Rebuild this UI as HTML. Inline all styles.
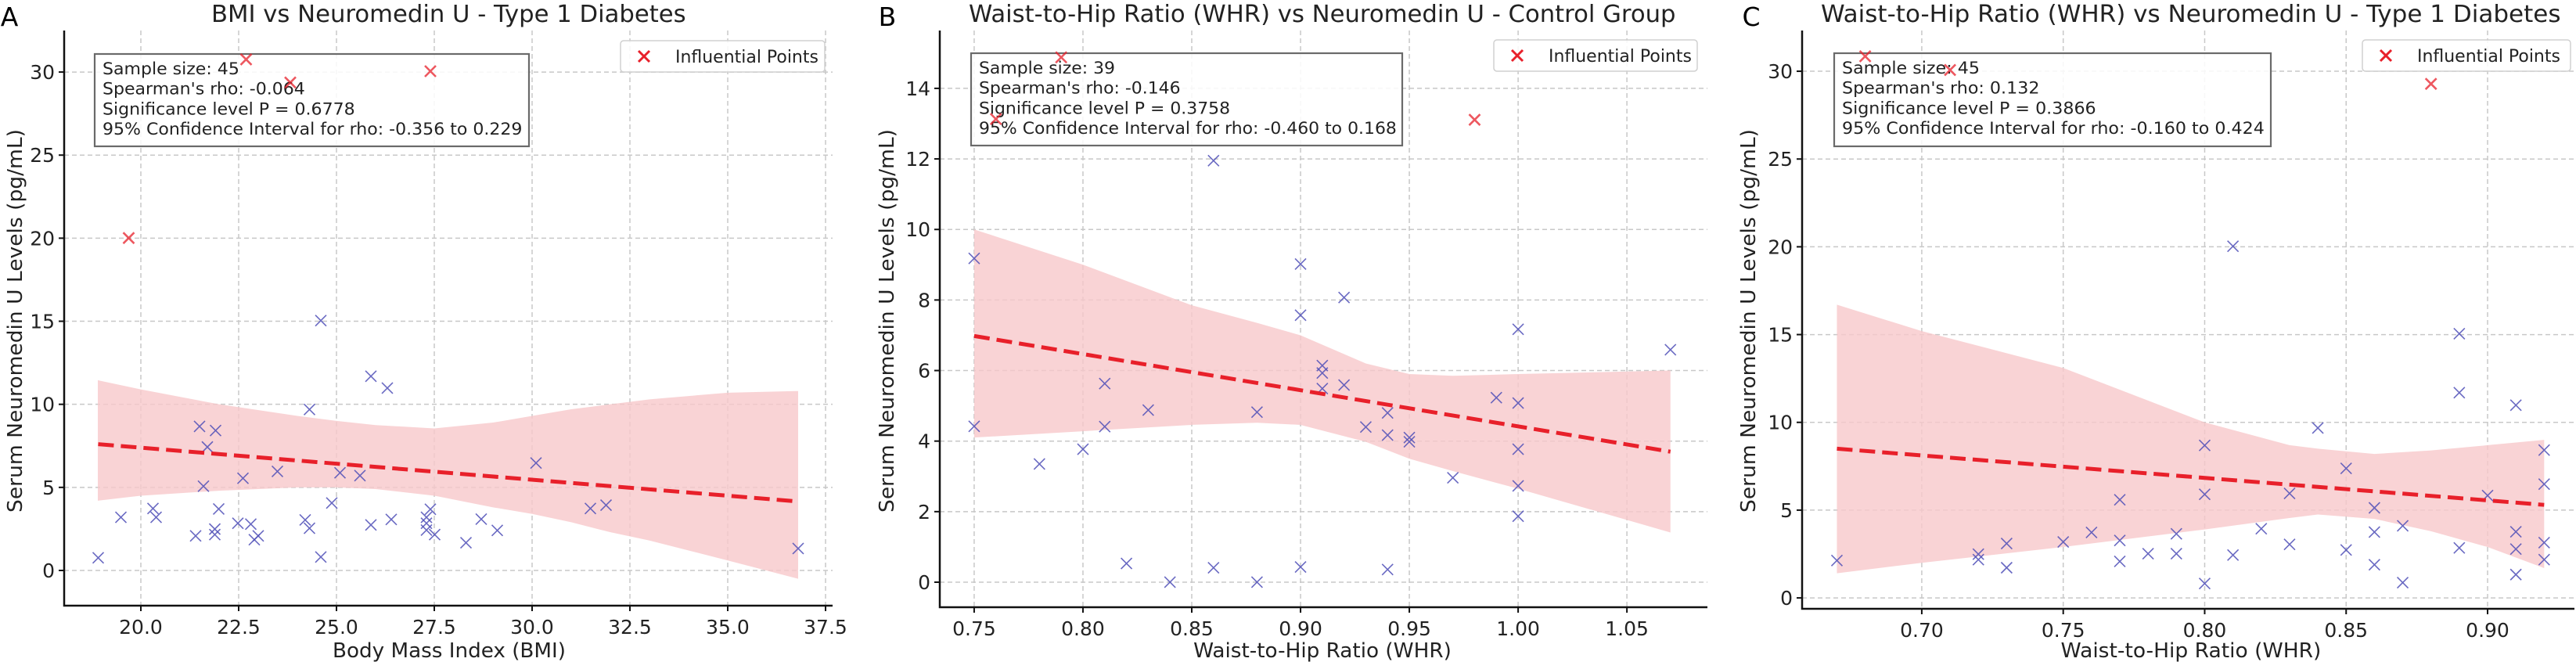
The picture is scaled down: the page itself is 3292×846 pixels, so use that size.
<!DOCTYPE html>
<html><head><meta charset="utf-8"><style>
html,body{margin:0;padding:0;background:#fff;}
svg{display:block;font-family:"DejaVu Sans","Liberation Sans",sans-serif;}
</style></head><body>
<svg id="fig" width="3292" height="846" viewBox="0 0 3292 846" xmlns="http://www.w3.org/2000/svg"></svg>
<script>
// Panel A data
const aBlueX=[18.91,19.49,20.31,20.39,21.40,21.50,21.60,21.70,21.89,21.89,21.91,21.99,22.48,22.61,22.81,22.90,23.0,23.49,24.2,24.31,24.31,24.6,24.6,24.88,25.09,25.6,25.88,25.88,26.30,26.40,27.30,27.3,27.3,27.40,27.51,28.31,28.70,29.11,30.1,31.49,31.89,36.8];
const aBlueY=[0.76,3.2,3.73,3.2,2.08,8.67,5.07,7.43,2.49,2.16,8.42,3.70,2.84,5.55,2.79,1.85,2.08,5.96,3.04,9.69,2.54,15.04,0.81,4.06,5.88,5.71,11.69,2.74,10.98,3.07,3.2,2.84,2.43,3.68,2.16,1.67,3.09,2.41,6.47,3.73,3.93,1.32];
const aRedX=[22.69,23.82,27.40,19.69];
const aRedY=[30.76,29.37,30.05,20.01];
const aLineX=[18.91,36.8];
const aLineY=[7.6,4.15];
const aBandX=[18.9,20,22,24,25,26,27.5,29,30,31,32,33,34,35,36.8];
const aBandHi=[11.45,10.9,10.0,9.3,9.0,8.75,8.55,8.9,9.3,9.7,10.0,10.3,10.5,10.7,10.8];
const aBandLo=[4.2,4.5,4.8,5.0,5.0,4.9,4.5,3.8,3.4,2.9,2.3,1.8,1.2,0.6,-0.5];
const aXTicks=[20,22.5,25,27.5,30,32.5,35,37.5];
const aYTicks=[0,5,10,15,20,25,30];
const aStats=["Sample size: 45","Spearman's rho: -0.064","Significance level P = 0.6778","95% Confidence Interval for rho: -0.356 to 0.229"];
// Panel B data
const bBlueX=[0.75,0.75,0.78,0.80,0.81,0.81,0.82,0.83,0.84,0.86,0.86,0.88,0.88,0.90,0.90,0.90,0.91,0.91,0.91,0.92,0.92,0.93,0.94,0.94,0.94,0.95,0.95,0.97,0.99,1.00,1.00,1.00,1.00,1.00,1.07];
const bBlueY=[9.18,4.42,3.35,3.77,5.63,4.41,0.53,4.88,0,11.95,0.41,4.82,0,9.02,7.57,0.43,6.14,5.93,5.49,8.07,5.59,4.40,4.80,4.17,0.36,4.10,3.98,2.96,5.23,7.17,5.08,3.77,2.73,1.87,6.59];
const bRedX=[0.79,0.76,0.98];
const bRedY=[14.88,13.13,13.11];
const bLineX=[0.75,1.07];
const bLineY=[6.98,3.7];
const bBandX=[0.75,0.80,0.85,0.88,0.90,0.93,0.95,0.97,1.00,1.07];
const bBandHi=[10.0,9.0,7.85,7.35,7.0,6.2,5.9,5.85,5.9,6.0];
const bBandLo=[4.1,4.28,4.46,4.52,4.46,3.98,3.5,3.15,2.65,1.41];
const bXTicks=[0.75,0.80,0.85,0.90,0.95,1.00,1.05];
const bYTicks=[0,2,4,6,8,10,12,14];
const bStats=["Sample size: 39","Spearman's rho: -0.146","Significance level P = 0.3758","95% Confidence Interval for rho: -0.460 to 0.168"];
// Panel C data
const cBlueX=[0.67,0.72,0.72,0.73,0.73,0.75,0.76,0.77,0.77,0.77,0.78,0.79,0.79,0.80,0.80,0.80,0.81,0.81,0.82,0.83,0.83,0.84,0.85,0.85,0.86,0.86,0.86,0.87,0.87,0.89,0.89,0.89,0.90,0.91,0.91,0.91,0.91,0.92,0.92,0.92,0.92];
const cBlueY=[2.13,2.49,2.18,3.1,1.72,3.19,3.73,5.59,3.27,2.08,2.52,3.65,2.52,8.69,5.90,0.82,20.03,2.44,3.94,5.95,3.05,9.68,7.38,2.73,5.13,3.75,1.89,4.11,0.87,15.05,11.69,2.85,5.83,10.98,3.77,2.78,1.33,8.42,6.48,3.15,2.18];
const cRedX=[0.68,0.71,0.88];
const cRedY=[30.85,30.07,29.28];
const cLineX=[0.67,0.92];
const cLineY=[8.5,5.3];
const cBandX=[0.67,0.70,0.75,0.80,0.83,0.84,0.86,0.88,0.90,0.92];
const cBandHi=[16.7,15.2,13.1,10.0,8.7,8.5,8.2,8.4,8.7,9.0];
const cBandLo=[1.4,2.0,2.9,3.9,4.55,4.75,4.5,3.8,2.9,1.7];
const cXTicks=[0.70,0.75,0.80,0.85,0.90];
const cYTicks=[0,5,10,15,20,25,30];
const cStats=["Sample size: 45","Spearman's rho: 0.132","Significance level P = 0.3866","95% Confidence Interval for rho: -0.160 to 0.424"];

const NS="http://www.w3.org/2000/svg";
const svg=document.getElementById('fig');
function mk(tag,attrs,parent){const e=document.createElementNS(NS,tag);for(const k in attrs)e.setAttribute(k,attrs[k]);(parent||svg).appendChild(e);return e;}
// horizontally scale a text element (anchored at x) so its width equals target
function fitX(el,target,ax){const w=el.getComputedTextLength();if(!w)return 1;const s=target/w;
  el.setAttribute('transform',`translate(${ax} 0) scale(${s} 1) translate(${-ax} 0)`);return s;}

function panel(o){
  const g=mk('g',{});
  
  
  const sx=v=>o.L+(v-o.x0)/(o.x1-o.x0)*(o.R-o.L);
  const sy=v=>o.B-(v-o.y0)/(o.y1-o.y0)*(o.B-o.T);
  o.xt.forEach(t=>{const l=mk('line',{x1:sx(t),x2:sx(t),y1:o.T,y2:o.B,stroke:'#c8c8c8','stroke-width':1.5,'stroke-dasharray':'6,4'},g);
    });
  o.yt.forEach(t=>{const l=mk('line',{x1:o.L,x2:o.R,y1:sy(t),y2:sy(t),stroke:'#c8c8c8','stroke-width':1.5,'stroke-dasharray':'6,4'},g);
    });
  let pts=o.bx.map((x,i)=>sx(x)+','+sy(o.bh[i]));
  pts=pts.concat(o.bx.map((x,i)=>sx(x)+','+sy(o.bl[i])).reverse());
  const band=mk('polygon',{points:pts.join(' '),fill:'#f8c8cb','fill-opacity':0.8},g);
  
  
  const cross=(x,y,h,col,w,op,name)=>{const pg=mk('g',{stroke:col,'stroke-width':w,opacity:op},g);
    
    mk('line',{x1:x-h,y1:y-h,x2:x+h,y2:y+h},pg);mk('line',{x1:x-h,y1:y+h,x2:x+h,y2:y-h},pg);};
  o.bxd.forEach((x,i)=>cross(sx(x),sy(o.byd[i]),7,'#5050b8',1.6,0.85,'data-point'));
  const rl=mk('line',{x1:sx(o.lx[0]),y1:sy(o.ly[0]),x2:sx(o.lx[1]),y2:sy(o.ly[1]),stroke:'#e8202a','stroke-width':5,'stroke-dasharray':'20,9'},g);
  
  
  const bx=mk('rect',{x:o.sb[0],y:o.sb[1],width:o.sb[2],height:o.sb[3],fill:'#fff','fill-opacity':0.85,stroke:'#6a6a6a','stroke-width':2.2},g);
  
  
  const tx0=o.sb[0]+10;
  const lines=o.stats.map((s,i)=>{const t=mk('text',{x:tx0,y:o.sb[1]+26+i*25.7,'font-size':21,fill:'#222'},g);t.textContent=s;
    return t;});
  const sc=o.sw/lines[3].getComputedTextLength();
  lines.forEach(t=>t.setAttribute('transform',`translate(${tx0} 0) scale(${sc} 1) translate(${-tx0} 0)`));
  o.rxd.forEach((x,i)=>cross(sx(x),sy(o.ryd[i]),7,'#e8202a',2.6,0.75,'influential-point'));
  const sp=mk('path',{d:`M${o.L},${o.T}V${o.B}H${o.R}`,fill:'none',stroke:'#111','stroke-width':2.5},g);
  
  
  o.xt.forEach(t=>{mk('line',{x1:sx(t),x2:sx(t),y1:o.B,y2:o.B+7,stroke:'#111','stroke-width':2},g);
    const tx=mk('text',{x:sx(t),y:o.B+36,'font-size':25,'text-anchor':'middle',fill:'#222'},g);tx.textContent=o.xf(t);
    });
  o.yt.forEach(t=>{mk('line',{x1:o.L-7,x2:o.L,y1:sy(t),y2:sy(t),stroke:'#111','stroke-width':2},g);
    const tx=mk('text',{x:o.L-12,y:sy(t)+9,'font-size':25,'text-anchor':'end',fill:'#222'},g);tx.textContent=String(t);
    });
  const ti=mk('text',{x:o.tl[0],y:28,'font-size':30,fill:'#222'},g);ti.textContent=o.title;
  
  fitX(ti,o.tl[1]-o.tl[0],o.tl[0]);
  const pl=mk('text',{x:o.pl,y:33,'font-size':33,'text-anchor':'middle',fill:'#000'},g);pl.textContent=o.letter;
  
  const xc=o.xl[0];
  const xl=mk('text',{x:xc,y:840,'font-size':26,'text-anchor':'middle',fill:'#222'},g);xl.textContent=o.xlab;
  
  fitX(xl,o.xl[1],xc);
  const yc=410;
  const yl=mk('text',{x:0,y:0,'font-size':26,'text-anchor':'middle',fill:'#222'},g);
  yl.textContent='Serum Neuromedin U Levels (pg/mL)';
  
  const yw=yl.getComputedTextLength();
  yl.setAttribute('transform',`translate(${o.yx} ${yc}) rotate(-90) scale(${490/yw} 1)`);
  const lg=mk('g',{},g);
  
  
  mk('rect',{x:o.lg[0],y:o.lg[1],width:o.lg[2],height:o.lg[3],rx:4,fill:'#fff','fill-opacity':0.85,stroke:'#d0d0d0','stroke-width':1.5},lg);
  const mx=o.lg[0]+30,my=o.lg[1]+o.lg[3]/2;
  const lm=mk('g',{stroke:'#e8202a','stroke-width':3},lg);
  
  
  mk('line',{x1:mx-7,y1:my-7,x2:mx+7,y2:my+7},lm);mk('line',{x1:mx-7,y1:my+7,x2:mx+7,y2:my-7},lm);
  const lx0=o.lg[0]+70;
  const lt=mk('text',{x:lx0,y:my+8,'font-size':22,fill:'#222'},lg);lt.textContent='Influential Points';
  
  fitX(lt,183,lx0);
}
const f1=t=>t.toFixed(1), f2=t=>t.toFixed(2);
panel({id:'bmi-t1d',L:82,R:1064,T:39,B:774,x0:18.04,x1:37.68,y0:-2.12,y1:32.5,
  xt:aXTicks,yt:aYTicks,xf:f1,bx:aBandX,bh:aBandHi,bl:aBandLo,bxd:aBlueX,byd:aBlueY,rxd:aRedX,ryd:aRedY,lx:aLineX,ly:aLineY,
  stats:aStats,sb:[121,69,555,118],sw:537,lg:[793,52,261,40],title:'BMI vs Neuromedin U - Type 1 Diabetes',tl:[270,877],letter:'A',pl:12,
  xlab:'Body Mass Index (BMI)',xl:[574,298],yx:28});
panel({id:'whr-control',L:1201,R:2182,T:39,B:776,x0:0.7342,x1:1.087,y0:-0.71,y1:15.64,
  xt:bXTicks,yt:bYTicks,xf:f2,bx:bBandX,bh:bBandHi,bl:bBandLo,bxd:bBlueX,byd:bBlueY,rxd:bRedX,ryd:bRedY,lx:bLineX,ly:bLineY,
  stats:bStats,sb:[1241,68,551,118],sw:534,lg:[1909,51,260,40],title:'Waist-to-Hip Ratio (WHR) vs Neuromedin U - Control Group',tl:[1238,2142],letter:'B',pl:1134,
  xlab:'Waist-to-Hip Ratio (WHR)',xl:[1690,330],yx:1142});
panel({id:'whr-t1d',L:2303,R:3290,T:39,B:778,x0:0.6577,x1:0.9307,y0:-0.62,y1:32.32,
  xt:cXTicks,yt:cYTicks,xf:f2,bx:cBandX,bh:cBandHi,bl:cBandLo,bxd:cBlueX,byd:cBlueY,rxd:cRedX,ryd:cRedY,lx:cLineX,ly:cLineY,
  stats:cStats,sb:[2344,68,558,119],sw:540,lg:[3019,51,266,40],title:'Waist-to-Hip Ratio (WHR) vs Neuromedin U - Type 1 Diabetes',tl:[2327,3273],letter:'C',pl:2238,
  xlab:'Waist-to-Hip Ratio (WHR)',xl:[2800,333],yx:2243});
</script>
</body></html>
